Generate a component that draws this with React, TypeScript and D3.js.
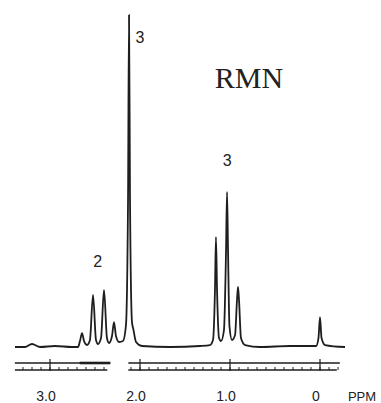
import React from "react";
import * as d3 from "d3";

// Traced spectrum (chemical shift in ppm, relative intensity %)
const shiftPpm = [
  3.389, 3.278, 3.2, 3.111, 2.944, 2.756, 2.689, 2.667, 2.644, 2.622, 2.589,
  2.556, 2.522, 2.489, 2.467, 2.433, 2.4, 2.367, 2.344, 2.311, 2.289, 2.267,
  2.233, 2.189, 2.156, 2.133, 2.122, 2.111, 2.089, 2.072, 2.044, 1.978, 1.667,
  1.333, 1.222, 1.189, 1.167, 1.156, 1.144, 1.122, 1.1, 1.067, 1.044, 1.033,
  1.022, 1.006, 0.978, 0.944, 0.922, 0.911, 0.9, 0.878, 0.833, 0.667, 0.333,
  0.044, 0.017, 0, -0.017, -0.056, -0.278,
];
const intensity = [
  0, 0, 0.9, 0, 0.3, 0, 0, 1.8, 4.2, 1.8, 0.6,
  2.1, 15.7, 2.1, 0.9, 2.7, 17.2, 2.7, 1.2, 3.3, 7.5, 3.3,
  1.5, 1.8, 6.6, 44.3, 100, 44.3, 7.5, 5.1, 1.5, 0.3, 0,
  0.3, 0.6, 2.1, 17.2, 33.1, 17.2, 2.7, 1.8, 5.1, 29.2, 46.7,
  29.2, 6.3, 2.1, 3.6, 14.2, 18.1, 14.2, 2.7, 0.6, 0, 0.3,
  0.3, 2.7, 9.0, 2.7, 0.6, 0,
];

// Peak annotations (integration counts)
const annotationText = ["3", "2", "3"];
const annotationPpm = [2.0, 2.47, 1.03];
const annotationLevel = [91.5, 24, 54.5];

// Axis
const tickValues = [3.0, 2.0, 1.0, 0];
const tickLabels = ["3.0", "2.0", "1.0", "0"];
const axisUnit = "PPM";
const title = "RMN";

// ruler segments (ppm ranges)
const rulerStart = [3.39, 2.13];
const rulerEnd = [2.33, -0.22];

export default function App() {
  const W = 381;
  const H = 403;
  const x = d3.scaleLinear().domain([0, 3]).range([320, 50]);
  const y = d3.scaleLinear().domain([0, 100]).range([347, 15]);

  const pts: [number, number][] = shiftPpm.map((p, i) => [p, intensity[i]]);
  const line = d3
    .line<[number, number]>()
    .x((d) => x(d[0]))
    .y((d) => y(d[1]))
    .curve(d3.curveMonotoneX);

  const topY = 363;
  const botY = 370;
  const ink = "#1e1e1e";

  const minorTicks: number[] = [];
  rulerStart.forEach((s, i) => {
    const e = rulerEnd[i];
    for (let v = Math.floor(s * 10) / 10; v >= e; v = +(v - 0.1).toFixed(2)) {
      if (v <= s) minorTicks.push(v);
    }
  });

  return (
    <svg
      width={W}
      height={H}
      style={{ position: "absolute", left: 0, top: 0, background: "#fff" }}
    >
      <rect x={0} y={0} width={W} height={H} fill="#fff" />
      <path
        d={line(pts) || ""}
        fill="none"
        stroke={ink}
        strokeWidth={1.8}
        strokeLinejoin="round"
      />

      {/* rulers */}
      {rulerStart.map((s, i) => (
        <g key={"r" + i}>
          <line x1={x(s)} x2={x(rulerEnd[i])} y1={topY} y2={topY} stroke={ink} strokeWidth={1.3} />
          <line x1={x(s)} x2={x(rulerEnd[i]) - 3} y1={botY} y2={botY} stroke={ink} strokeWidth={1.3} />
        </g>
      ))}
      <line x1={x(2.67)} x2={x(2.33)} y1={topY} y2={topY} stroke={ink} strokeWidth={2.6} />
      {minorTicks.map((v, i) => (
        <line key={"m" + i} x1={x(v)} x2={x(v)} y1={botY} y2={botY - 3} stroke={ink} strokeWidth={1} />
      ))}
      {tickValues.map((v, i) => (
        <line key={"t" + i} x1={x(v)} x2={x(v)} y1={topY - 4} y2={botY + 1} stroke={ink} strokeWidth={1.2} />
      ))}

      {/* tick labels */}
      {tickValues.map((v, i) => (
        <text
          key={"l" + i}
          x={x(v) - 4}
          y={401}
          textAnchor="middle"
          fontFamily="Liberation Sans, Arial, sans-serif"
          fontSize={14}
          fill="#222"
        >
          {tickLabels[i]}
        </text>
      ))}
      <text x={362} y={401} textAnchor="middle" fontFamily="Liberation Sans, Arial, sans-serif" fontSize={13} fill="#222">
        {axisUnit}
      </text>

      {/* annotations */}
      {annotationText.map((t, i) => (
        <text
          key={"a" + i}
          x={x(annotationPpm[i])}
          y={y(annotationLevel[i])}
          textAnchor="middle"
          fontFamily="Liberation Sans, Arial, sans-serif"
          fontSize={16}
          fill="#222"
        >
          {t}
        </text>
      ))}

      <text
        x={249}
        y={88}
        textAnchor="middle"
        fontFamily="Liberation Serif, Times New Roman, serif"
        fontSize={30}
        fill="#222"
      >
        {title}
      </text>
    </svg>
  );
}
